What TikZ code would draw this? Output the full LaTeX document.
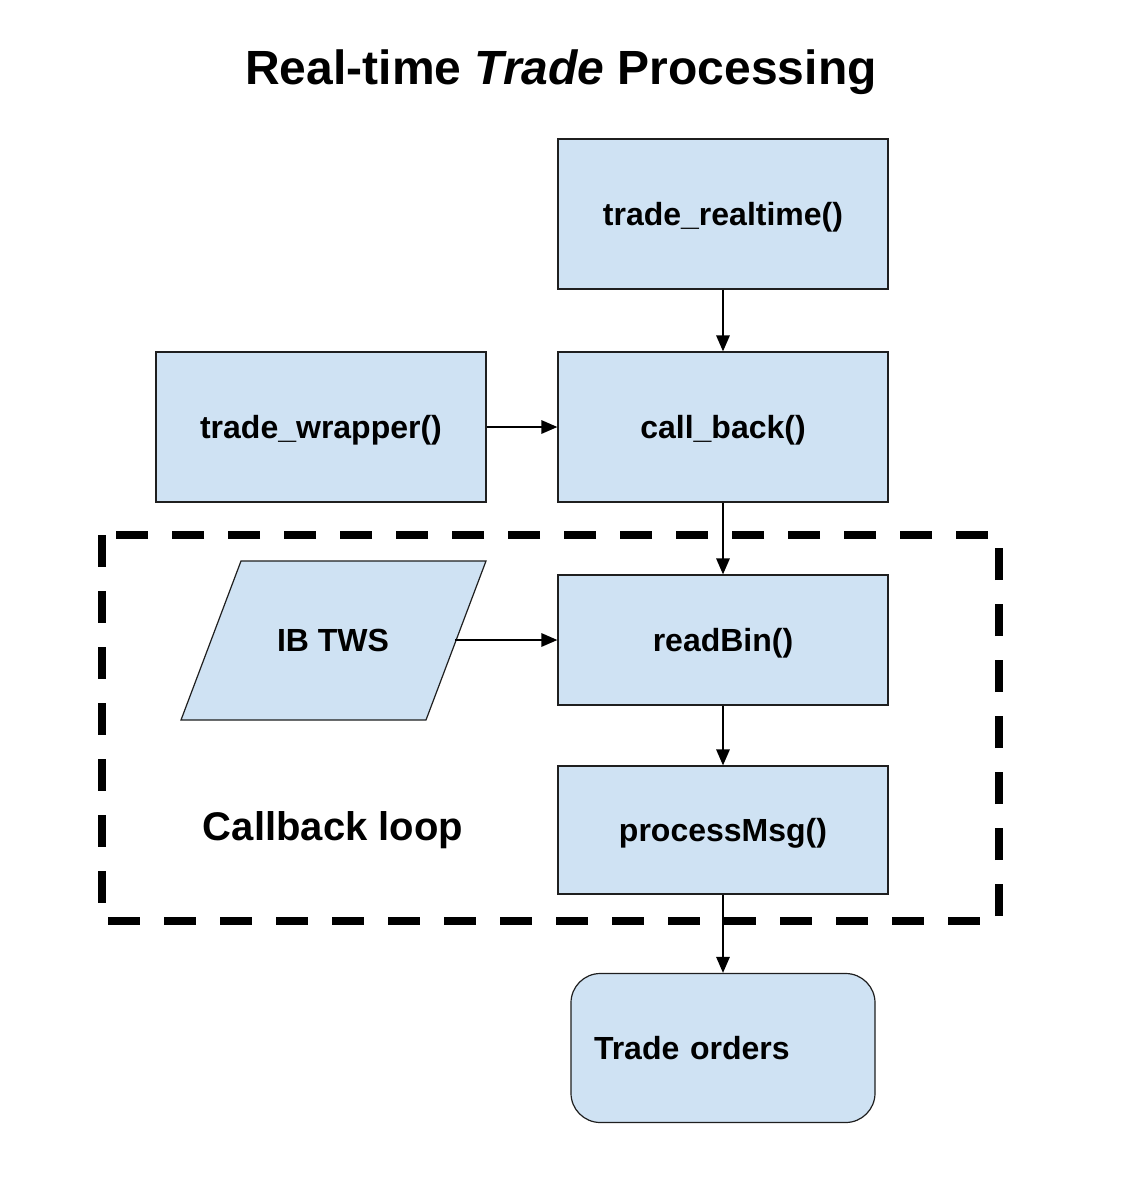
\documentclass[tikz,border=0pt]{standalone}
\usepackage{fontspec}
\setmainfont{Liberation Sans}
\usetikzlibrary{arrows.meta}
\definecolor{boxfill}{HTML}{CFE2F3}
\definecolor{boxline}{HTML}{1F1F1F}
\begin{document}
\begin{tikzpicture}[x=0.75pt,y=-0.75pt,
  % text boxes sized to the cap height so the capitals sit on the node centre
  boxtext/.style={font=\fontsize{24}{28}\selectfont\bfseries, text height=17.2pt, text depth=0pt},
  blk/.style={draw=boxline, line width=0.9pt, fill=boxfill, inner sep=0pt,
    minimum width=247.5pt, minimum height=112.5pt, boxtext},
  flow/.style={line width=1.5pt, -{Triangle[length=12pt,width=10pt]}},
  loopframe/.style={line width=6pt, dash pattern=on 24pt off 18pt}]
% canvas
\useasboundingbox (0,0) rectangle (1123,1179);

% title
\node[font=\fontsize{36}{42}\selectfont\bfseries, text height=25.8pt, text depth=0pt]
  (title) at (561,67) {Real-time \textit{Trade} Processing};

% callback loop frame
\draw[loopframe] (102,535) rectangle (999,921);
\node[font=\fontsize{30}{36}\selectfont\bfseries, text height=21.5pt, text depth=0pt]
  (looplabel) at (333,826) {Callback loop};

% process boxes
\node[blk] (realtime) at (723,214) {trade\_realtime()};
\node[blk] (callback) at (723,427) {call\_back()};
\node[blk] (wrapper)  at (321,427) {trade\_wrapper()};
\node[blk, minimum height=97.5pt] (readbin) at (723,640) {readBin()};
\node[blk, minimum height=96pt] (process) at (723,830) {processMsg()};
\node[blk, rounded corners=22pt, minimum width=228pt, minimum height=111.75pt,
      text width=193.5pt, inner xsep=17.25pt, align=left] (orders) at (723,1048) {Trade orders};

% data input (parallelogram)
\draw[draw=boxline, line width=0.9pt, fill=boxfill]
  (241,561) -- (486,561) -- (426,720) -- (181,720) -- cycle;
\node[boxtext] (tws) at (333,640) {IB TWS};
\coordinate (twsout) at (455,640);

% connectors
\draw[flow] (realtime.south) -- (callback.north);
\draw[flow] (wrapper.east) -- (callback.west);
\draw[flow] (callback.south) -- (readbin.north);
\draw[flow] (twsout) -- (readbin.west);
\draw[flow] (readbin.south) -- (process.north);
\draw[flow] (process.south) -- (orders.north);
\end{tikzpicture}
\end{document}
